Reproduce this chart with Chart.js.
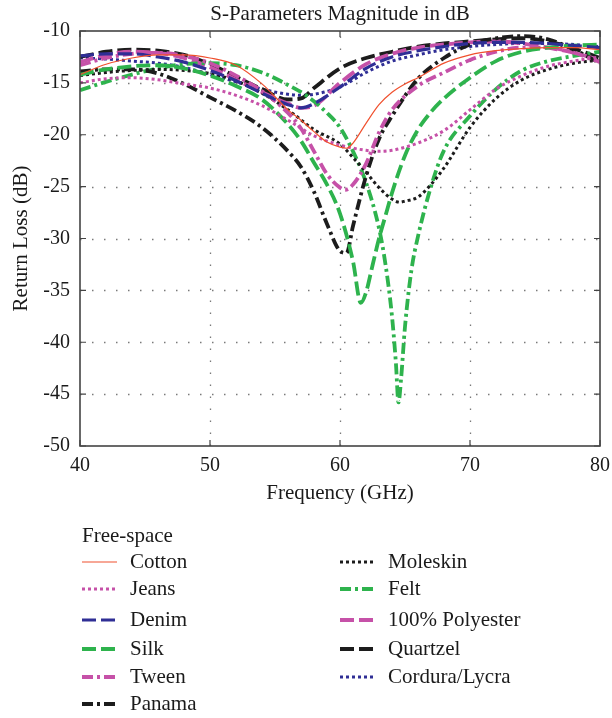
<!DOCTYPE html>
<html>
<head>
<meta charset="utf-8">
<script src="https://cdn.jsdelivr.net/npm/chart.js@4.4.1/dist/chart.umd.min.js"></script>
<style>
  html, body { margin: 0; padding: 0; background: #fff; }
  #wrap { width: 612px; height: 718px; }
</style>
</head>
<body>
<div id="wrap"><canvas id="sparams" width="612" height="718"></canvas></div>
<script>
// frequency (GHz) / return loss (dB), one pair per fabric
const cottonF = [40, 42, 44, 46, 48, 50, 52, 54, 56, 57, 58, 59, 60, 60.5, 61, 62, 63, 64, 65, 66, 68, 70, 72, 74, 76, 78, 80];
const cottonDb = [-14.2, -13.2, -12.6, -12.3, -12.3, -12.6, -13.3, -15.1, -17.6, -18.6, -19.7, -20.7, -21.2, -21.3, -20.8, -18.9, -17.1, -15.9, -15.1, -14.5, -13.1, -12.3, -11.9, -11.7, -11.6, -11.6, -11.8];

const jeansF = [40, 42, 44, 46, 48, 50, 52, 54, 56, 58, 60, 62, 63, 64, 65, 66, 68, 70, 72, 74, 76, 78, 80];
const jeansDb = [-15.0, -14.6, -14.5, -14.7, -15.1, -15.5, -16.2, -17.2, -18.6, -20.1, -21.0, -21.5, -21.6, -21.5, -21.2, -20.8, -19.6, -17.6, -15.6, -14.3, -13.4, -12.9, -12.5];

const denimF = [40, 42, 44, 46, 48, 50, 52, 54, 56, 57, 58, 60, 62, 64, 66, 68, 70, 72, 74, 76, 78, 80];
const denimDb = [-12.4, -12.2, -12.2, -12.5, -13.0, -13.8, -14.8, -16.0, -17.1, -17.4, -17.0, -15.4, -13.6, -12.5, -11.9, -11.5, -11.2, -11.1, -11.1, -11.2, -11.4, -11.6];

const silkF = [40, 42, 44, 46, 48, 50, 52, 54, 56, 57, 58, 59, 60, 61, 61.6, 62, 62.5, 63, 63.5, 64, 65, 66, 67, 68, 70, 72, 74, 76, 78, 80];
const silkDb = [-14.2, -13.7, -13.4, -13.3, -13.6, -14.3, -15.3, -16.6, -19.0, -20.6, -22.7, -24.8, -27.6, -32.2, -36.2, -35.2, -32.6, -30.0, -27.8, -25.6, -22.0, -19.5, -17.8, -16.5, -14.5, -12.9, -12.0, -11.6, -11.4, -11.3];

const tweenF = [40, 42, 44, 46, 48, 50, 52, 54, 56, 57, 58, 59, 60, 60.4, 61, 62, 63, 64, 66, 68, 70, 72, 74, 76, 78, 80];
const tweenDb = [-13.3, -12.6, -12.2, -12.1, -12.4, -13.1, -14.3, -15.8, -17.9, -19.4, -21.6, -23.8, -25.1, -25.3, -24.8, -22.8, -19.8, -17.6, -15.3, -14.0, -12.8, -12.0, -11.6, -11.6, -12.1, -13.0];

const panamaF = [40, 42, 44, 46, 48, 50, 52, 54, 56, 57, 58, 59, 60, 60.5, 61, 62, 63, 64, 66, 68, 70, 72, 74, 76, 78, 80];
const panamaDb = [-13.9, -13.7, -13.7, -14.1, -15.1, -16.4, -17.7, -19.3, -21.6, -23.1, -25.5, -28.6, -31.2, -31.4, -28.8, -24.0, -20.4, -18.2, -14.6, -12.6, -11.3, -10.7, -10.5, -10.8, -11.8, -13.1];

const moleskinF = [40, 42, 44, 46, 48, 50, 52, 54, 56, 58, 60, 61, 62, 63, 64, 64.6, 65, 66, 67, 68, 70, 72, 74, 76, 78, 80];
const moleskinDb = [-14.3, -14.0, -13.8, -13.7, -13.8, -14.1, -14.8, -16.0, -17.6, -19.5, -20.9, -22.2, -23.6, -25.1, -26.2, -26.5, -26.4, -26.0, -24.8, -23.2, -19.3, -16.5, -14.7, -13.7, -13.1, -12.8];

const feltF = [40, 42, 44, 46, 48, 50, 52, 54, 56, 57.5, 59, 60, 61, 62, 63, 63.5, 64, 64.3, 64.5, 64.7, 65, 65.5, 66, 67, 68, 70, 72, 74, 76, 78, 80];
const feltDb = [-15.7, -14.9, -14.2, -13.6, -13.2, -13.1, -13.3, -14.0, -15.2, -16.3, -17.9, -19.3, -21.6, -24.6, -29.0, -32.5, -37.5, -42.0, -45.8, -43.5, -38.5, -33.0, -29.8, -25.0, -21.5, -18.2, -15.6, -13.8, -12.9, -12.4, -12.0];

const polyF = [40, 42, 44, 46, 48, 50, 52, 54, 56, 57, 58, 60, 62, 64, 66, 68, 70, 72, 74, 76, 78, 80];
const polyDb = [-13.0, -12.3, -12.0, -12.1, -12.6, -13.5, -14.7, -15.9, -17.0, -17.4, -17.2, -15.0, -13.2, -12.2, -11.6, -11.3, -11.1, -11.0, -11.2, -11.6, -12.1, -12.8];

const quartzelF = [40, 42, 44, 46, 48, 50, 52, 54, 56, 57, 58, 60, 62, 64, 66, 68, 70, 72, 74, 76, 78, 80];
const quartzelDb = [-12.5, -12.0, -11.8, -11.9, -12.3, -13.2, -14.4, -15.6, -16.6, -16.5, -15.5, -13.6, -12.6, -12.0, -11.5, -11.2, -11.0, -10.8, -10.7, -11.0, -11.7, -12.6];

const corduraF = [40, 42, 44, 46, 48, 50, 52, 54, 56, 57, 58, 60, 62, 64, 66, 68, 70, 72, 74, 76, 78, 80];
const corduraDb = [-12.6, -12.7, -12.9, -13.1, -13.5, -14.2, -14.9, -15.6, -16.1, -16.2, -16.1, -15.4, -14.0, -12.9, -12.3, -11.8, -11.5, -11.3, -11.2, -11.2, -11.3, -11.5];

const xTicks = [40, 50, 60, 70, 80];
const yTicks = [-10, -15, -20, -25, -30, -35, -40, -45, -50];

const RED = '#f0502e', MAG = '#c651a8', BLUE = '#2f2e95', GREEN = '#2eb34d', BLACK = '#1c1c1c';
const DASH = [14, 5], DOT = [3, 3], DASHDOT = [11, 4, 3, 4];
const FONT = '"Liberation Serif", "DejaVu Serif", serif';
const TXT = '#1a1a1a';

const pts = (f, d) => f.map((v, i) => ({ x: v, y: d[i] }));

// order = legend order; col/row place the entry in the two-column legend
const series = [
  { label: 'Cotton', f: cottonF, d: cottonDb, color: RED, dash: [], width: 1.2, col: 0, row: 0 },
  { label: 'Jeans', f: jeansF, d: jeansDb, color: MAG, dash: DOT, width: 3, col: 0, row: 1 },
  { label: 'Denim', f: denimF, d: denimDb, color: BLUE, dash: DASH, width: 3.2, col: 0, row: 2 },
  { label: 'Silk', f: silkF, d: silkDb, color: GREEN, dash: DASH, width: 3.8, col: 0, row: 3 },
  { label: 'Tween', f: tweenF, d: tweenDb, color: MAG, dash: DASHDOT, width: 3.8, col: 0, row: 4 },
  { label: 'Panama', f: panamaF, d: panamaDb, color: BLACK, dash: DASHDOT, width: 3.8, col: 0, row: 5 },
  { label: 'Moleskin', f: moleskinF, d: moleskinDb, color: BLACK, dash: DOT, width: 3, col: 1, row: 0 },
  { label: 'Felt', f: feltF, d: feltDb, color: GREEN, dash: DASHDOT, width: 3.8, col: 1, row: 1 },
  { label: '100% Polyester', f: polyF, d: polyDb, color: MAG, dash: DASH, width: 3.8, col: 1, row: 2 },
  { label: 'Quartzel', f: quartzelF, d: quartzelDb, color: BLACK, dash: DASH, width: 3.8, col: 1, row: 3 },
  { label: 'Cordura/Lycra', f: corduraF, d: corduraDb, color: BLUE, dash: DOT, width: 3, col: 1, row: 4 }
];

// grid, inward ticks, plot box and the title centred over the plot
const framePlugin = {
  id: 'frame',
  beforeDatasetsDraw(chart) {
    const { ctx, chartArea: a, scales: { x, y } } = chart;
    ctx.save();
    ctx.strokeStyle = '#7a7a7a';
    ctx.lineWidth = 1.3;
    ctx.setLineDash([1.5, 10.5]);
    xTicks.slice(1, -1).forEach(v => {
      const px = Math.round(x.getPixelForValue(v)) + 0.5;
      ctx.beginPath(); ctx.moveTo(px, a.bottom); ctx.lineTo(px, a.top); ctx.stroke();
    });
    yTicks.slice(1, -1).forEach(v => {
      const py = Math.round(y.getPixelForValue(v)) + 0.5;
      ctx.beginPath(); ctx.moveTo(a.left, py); ctx.lineTo(a.right, py); ctx.stroke();
    });
    ctx.restore();
  },
  afterDatasetsDraw(chart) {
    const { ctx, chartArea: a, scales: { x, y } } = chart;
    ctx.save();
    ctx.strokeStyle = '#444';
    ctx.lineWidth = 1.6;
    ctx.setLineDash([]);
    ctx.strokeRect(a.left, a.top, a.right - a.left, a.bottom - a.top);
    ctx.lineWidth = 1.2;
    const t = 6;
    xTicks.forEach(v => {
      const px = x.getPixelForValue(v);
      ctx.beginPath();
      ctx.moveTo(px, a.bottom); ctx.lineTo(px, a.bottom - t);
      ctx.moveTo(px, a.top); ctx.lineTo(px, a.top + t);
      ctx.stroke();
    });
    yTicks.forEach(v => {
      const py = y.getPixelForValue(v);
      ctx.beginPath();
      ctx.moveTo(a.left, py); ctx.lineTo(a.left + t, py);
      ctx.moveTo(a.right, py); ctx.lineTo(a.right - t, py);
      ctx.stroke();
    });
    ctx.font = '21px ' + FONT;
    ctx.fillStyle = TXT;
    ctx.textAlign = 'center';
    ctx.textBaseline = 'middle';
    ctx.fillText('S-Parameters Magnitude in dB', (a.left + a.right) / 2, 14);
    ctx.restore();
  }
};

// legend block under the plot: header plus two columns
const legendPlugin = {
  id: 'blockLegend',
  afterDraw(chart) {
    const { ctx } = chart;
    const colX = [82, 340];
    const rowY = [562, 589, 620, 649, 677, 704];
    ctx.save();
    ctx.font = '21px ' + FONT;
    ctx.fillStyle = TXT;
    ctx.textBaseline = 'middle';
    ctx.textAlign = 'left';
    ctx.fillText('Free-space', 82, 536);
    chart.data.datasets.forEach((ds, i) => {
      const s = series[i];
      const x0 = colX[s.col], yy = rowY[s.row];
      ctx.strokeStyle = ds.borderColor;
      ctx.lineWidth = ds.borderWidth;
      ctx.setLineDash(ds.borderDash);
      ctx.beginPath(); ctx.moveTo(x0, yy); ctx.lineTo(x0 + 35, yy); ctx.stroke();
      ctx.setLineDash([]);
      ctx.fillText(ds.label, x0 + 48, yy);
    });
    ctx.restore();
  }
};

new Chart(document.getElementById('sparams'), {
  type: 'line',
  data: {
    datasets: series.map(s => ({
      label: s.label,
      data: pts(s.f, s.d),
      borderColor: s.color,
      backgroundColor: s.color,
      borderWidth: s.width,
      borderDash: s.dash,
      borderCapStyle: 'butt',
      pointRadius: 0,
      cubicInterpolationMode: 'monotone',
      fill: false
    }))
  },
  options: {
    responsive: false,
    animation: false,
    layout: { padding: { left: 0, right: 12, top: 31, bottom: 212 } },
    plugins: {
      legend: { display: false },
      tooltip: { enabled: false },
      title: { display: false }
    },
    scales: {
      x: {
        type: 'linear',
        min: 40, max: 80,
        afterBuildTicks: s => { s.ticks = xTicks.map(v => ({ value: v })); },
        afterFit: s => { s.height = 60; },
        grid: { display: false },
        border: { display: false },
        ticks: { color: TXT, font: { family: FONT, size: 20 }, padding: 0, maxRotation: 0 },
        title: { display: true, text: 'Frequency (GHz)', color: TXT, font: { family: FONT, size: 21 }, padding: { top: 0, bottom: 0 } }
      },
      y: {
        min: -50, max: -10,
        afterBuildTicks: s => { s.ticks = yTicks.map(v => ({ value: v })); },
        afterFit: s => { s.width = 80; },
        grid: { display: false },
        border: { display: false },
        ticks: { color: TXT, font: { family: FONT, size: 20 }, padding: 2 },
        title: { display: true, text: 'Return Loss (dB)', color: TXT, font: { family: FONT, size: 21 }, padding: { top: 9, bottom: 0 } }
      }
    }
  },
  plugins: [framePlugin, legendPlugin]
});
</script>
</body>
</html>
